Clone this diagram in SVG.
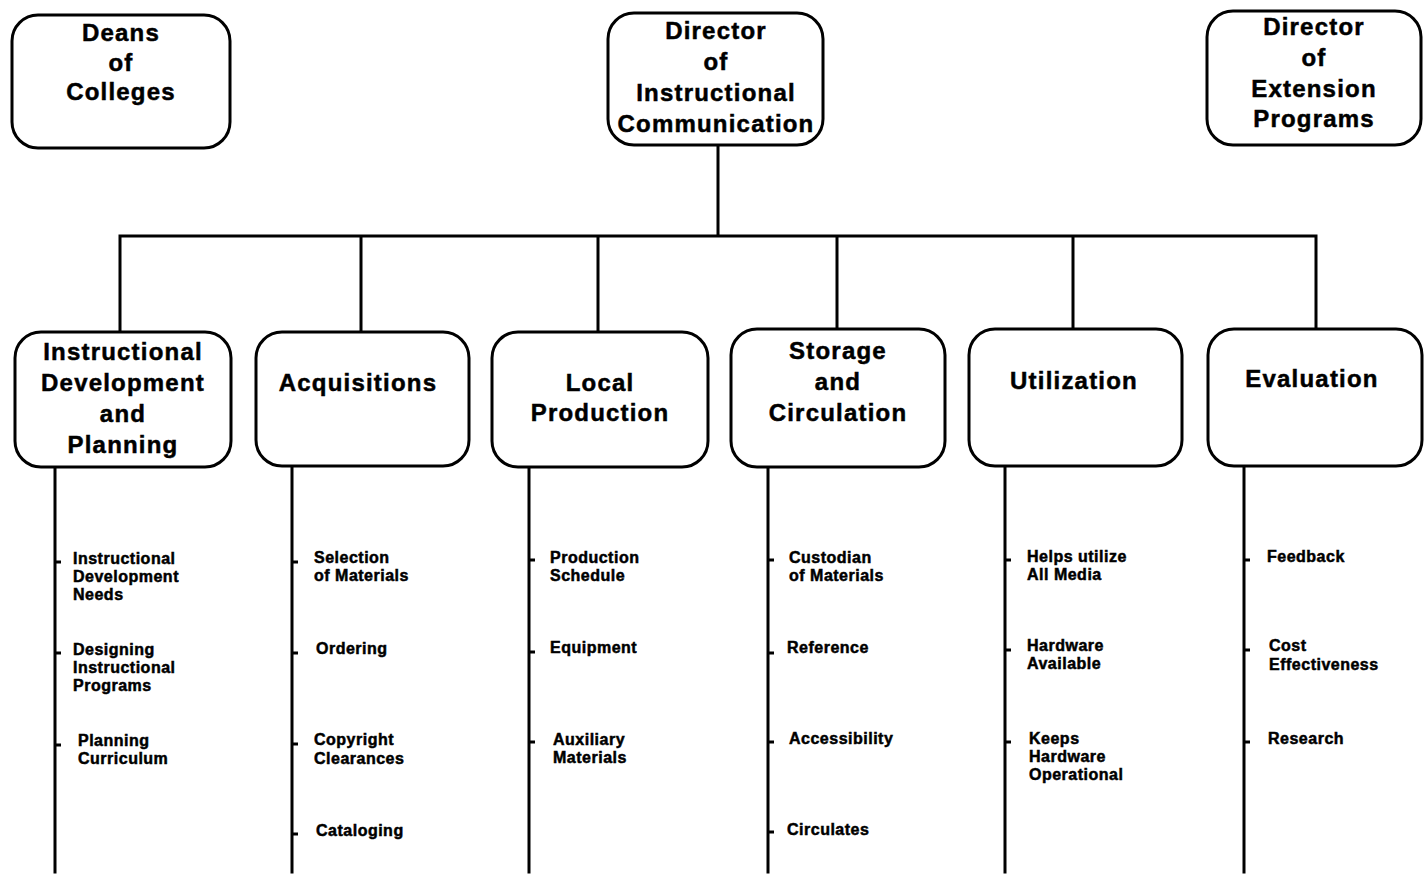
<svg xmlns="http://www.w3.org/2000/svg" width="1424" height="878" viewBox="0 0 1424 878">
  <style>
    .box { fill: #fff; stroke: #000; stroke-width: 3; }
    .wire { fill: none; stroke: #000; stroke-width: 3; stroke-linecap: square; }
    .tick { fill: none; stroke: #000; stroke-width: 3; }
    .title { font-family: "Liberation Sans", Arial, sans-serif; font-weight: bold; font-size: 24px; letter-spacing: 1.2px; fill: #000; stroke: #000; stroke-width: 0.5; text-anchor: middle; }
    .item { font-family: "Liberation Sans", Arial, sans-serif; font-weight: bold; font-size: 16px; letter-spacing: 0.5px; fill: #000; stroke: #000; stroke-width: 0.5; }
  </style>
  <rect width="1424" height="878" fill="#fff"/>

  <!-- connectors -->
  <g id="connectors">
    <path class="wire" d="M718 146 V236 M120 236 H1316 M120 236 V332 M361 236 V332 M598 236 V332 M837 236 V329 M1073 236 V329 M1316 236 V329"/>
    <path class="wire" d="M55 468 V872 M292 466 V872 M529 468 V872 M768 468 V872 M1005 468 V872 M1244 468 V872"/>
    <path class="tick" d="M55 562 h6 M55 653 h6 M55 745 h6
                          M292 562 h6 M292 653 h6 M292 744 h6 M292 834 h6
                          M529 560 h6 M529 652 h6 M529 742 h6
                          M768 560 h6 M768 653 h6 M768 742 h6 M768 832 h6
                          M1005 560 h6 M1005 650 h6 M1005 742 h6
                          M1244 560 h6 M1244 650 h6 M1244 742 h6"/>
  </g>

  <!-- top row -->
  <g id="deans">
    <rect class="box" x="12" y="15" width="218" height="133" rx="26"/>
    <text class="title" x="121" y="41">Deans</text>
    <text class="title" x="121" y="71">of</text>
    <text class="title" x="121" y="100">Colleges</text>
  </g>
  <g id="director-ic">
    <rect class="box" x="608" y="13" width="215" height="132" rx="26"/>
    <text class="title" x="716" y="39">Director</text>
    <text class="title" x="716" y="70">of</text>
    <text class="title" x="716" y="101">Instructional</text>
    <text class="title" x="716" y="132">Communication</text>
  </g>
  <g id="director-ext">
    <rect class="box" x="1207" y="11" width="214" height="134" rx="26"/>
    <text class="title" x="1314" y="35">Director</text>
    <text class="title" x="1314" y="66">of</text>
    <text class="title" x="1314" y="97">Extension</text>
    <text class="title" x="1314" y="127">Programs</text>
  </g>

  <!-- functional units -->
  <g id="instructional-development">
    <rect class="box" x="15" y="332" width="216" height="135" rx="26"/>
    <text class="title" x="123" y="360">Instructional</text>
    <text class="title" x="123" y="391">Development</text>
    <text class="title" x="123" y="422">and</text>
    <text class="title" x="123" y="453">Planning</text>
    <text class="item" x="73" y="564">Instructional</text>
    <text class="item" x="73" y="582">Development</text>
    <text class="item" x="73" y="600">Needs</text>
    <text class="item" x="73" y="655">Designing</text>
    <text class="item" x="73" y="673">Instructional</text>
    <text class="item" x="73" y="691">Programs</text>
    <text class="item" x="78" y="746">Planning</text>
    <text class="item" x="78" y="764">Curriculum</text>
  </g>
  <g id="acquisitions">
    <rect class="box" x="256" y="332" width="213" height="134" rx="26"/>
    <text class="title" x="358" y="391">Acquisitions</text>
    <text class="item" x="314" y="563">Selection</text>
    <text class="item" x="314" y="581">of Materials</text>
    <text class="item" x="316" y="654">Ordering</text>
    <text class="item" x="314" y="745">Copyright</text>
    <text class="item" x="314" y="764">Clearances</text>
    <text class="item" x="316" y="836">Cataloging</text>
  </g>
  <g id="local-production">
    <rect class="box" x="492" y="332" width="216" height="135" rx="26"/>
    <text class="title" x="600" y="391">Local</text>
    <text class="title" x="600" y="421">Production</text>
    <text class="item" x="550" y="563">Production</text>
    <text class="item" x="550" y="581">Schedule</text>
    <text class="item" x="550" y="653">Equipment</text>
    <text class="item" x="553" y="745">Auxiliary</text>
    <text class="item" x="553" y="763">Materials</text>
  </g>
  <g id="storage-circulation">
    <rect class="box" x="731" y="329" width="214" height="138" rx="26"/>
    <text class="title" x="838" y="359">Storage</text>
    <text class="title" x="838" y="390">and</text>
    <text class="title" x="838" y="421">Circulation</text>
    <text class="item" x="789" y="563">Custodian</text>
    <text class="item" x="789" y="581">of Materials</text>
    <text class="item" x="787" y="653">Reference</text>
    <text class="item" x="789" y="744">Accessibility</text>
    <text class="item" x="787" y="835">Circulates</text>
  </g>
  <g id="utilization">
    <rect class="box" x="969" y="329" width="213" height="137" rx="26"/>
    <text class="title" x="1074" y="389">Utilization</text>
    <text class="item" x="1027" y="562">Helps utilize</text>
    <text class="item" x="1027" y="580">All Media</text>
    <text class="item" x="1027" y="651">Hardware</text>
    <text class="item" x="1027" y="669">Available</text>
    <text class="item" x="1029" y="744">Keeps</text>
    <text class="item" x="1029" y="762">Hardware</text>
    <text class="item" x="1029" y="780">Operational</text>
  </g>
  <g id="evaluation">
    <rect class="box" x="1208" y="329" width="214" height="137" rx="26"/>
    <text class="title" x="1312" y="387">Evaluation</text>
    <text class="item" x="1267" y="562">Feedback</text>
    <text class="item" x="1269" y="651">Cost</text>
    <text class="item" x="1269" y="670">Effectiveness</text>
    <text class="item" x="1268" y="744">Research</text>
  </g>
</svg>
